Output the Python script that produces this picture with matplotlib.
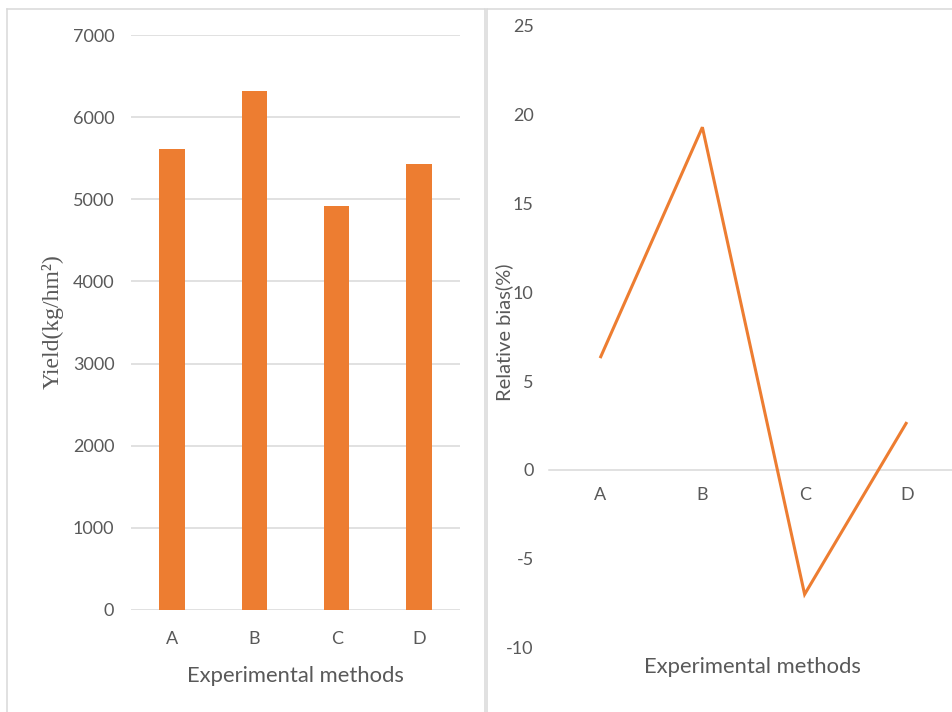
import matplotlib
matplotlib.use("Agg")
import matplotlib.pyplot as plt
from matplotlib.lines import Line2D

# Data
methods = ["A", "B", "C", "D"]
yield_kg_hm2 = [5610, 6320, 4920, 5430]
relative_bias = [6.3, 19.3, -7.0, 2.7]
yield_ticks = [0, 1000, 2000, 3000, 4000, 5000, 6000, 7000]
bias_ticks = [-10, -5, 0, 5, 10, 15, 20, 25]

ORANGE = "#ED7D31"
GRID = "#D9D9D9"
TEXT = "#595959"
FONT = "Lato"

plt.rcParams["axes.unicode_minus"] = False

W, H = 952, 712
fig = plt.figure(figsize=(W / 100, H / 100), dpi=100)
fig.patch.set_facecolor("white")


def fx(x):
    return x / W


def fy(y):
    return 1 - y / H


def rect(x0, y0, x1, y1):
    return [fx(x0), fy(y1), fx(x1) - fx(x0), fy(y0) - fy(y1)]


# Chart-area borders
for xs, ys in [
    ([7, 485], [9, 9]),
    ([487, 952], [9, 9]),
    ([7, 7], [9, 712]),
    ([485, 485], [9, 712]),
    ([487, 487], [9, 712]),
]:
    fig.add_artist(Line2D([fx(v) for v in xs], [fy(v) for v in ys],
                          transform=fig.transFigure, color=GRID, lw=1.1))

# ---- Left: yield bar chart ----
ax1 = fig.add_axes(rect(131, 35, 460, 610))
x = range(len(methods))
ax1.bar(x, yield_kg_hm2, width=0.31, color=ORANGE, zorder=3)
ax1.set_xlim(-0.5, len(methods) - 0.5)
ax1.set_ylim(0, 7000)
ax1.set_yticks(yield_ticks)
ax1.set_xticks(list(x))
ax1.set_xticklabels(methods)
ax1.grid(axis="y", color=GRID, lw=1.1, zorder=0)
for s in ax1.spines.values():
    s.set_visible(False)
ax1.tick_params(axis="both", length=0, labelcolor=TEXT, labelsize=13)
ax1.tick_params(axis="y", pad=12)
ax1.tick_params(axis="x", pad=15)
for lbl in ax1.get_xticklabels() + ax1.get_yticklabels():
    lbl.set_fontfamily(FONT)

fig.text(fx(295), fy(676), "Experimental methods", ha="center", va="center",
         color=TEXT, fontsize=15.8, family=FONT)
fig.text(fx(53), fy(322), "Yield(kg/hm²)", ha="center", va="center",
         rotation=90, color=TEXT, fontsize=17, family="Liberation Serif")

# ---- Right: relative bias line chart ----
ax2 = fig.add_axes(rect(549, 26, 958, 647.6))
ax2.plot(list(x), relative_bias, color=ORANGE, lw=2.2,
         solid_joinstyle="miter", solid_capstyle="butt", zorder=3)
ax2.set_xlim(-0.5, len(methods) - 0.5)
ax2.set_ylim(-10, 25)
ax2.set_yticks(bias_ticks)
ax2.set_xticks(list(x))
ax2.set_xticklabels(methods)
for name, s in ax2.spines.items():
    s.set_visible(name == "bottom")
ax2.spines["bottom"].set_position(("data", 0))
ax2.spines["bottom"].set_color(GRID)
ax2.spines["bottom"].set_linewidth(1.1)
ax2.tick_params(axis="both", length=0, labelcolor=TEXT, labelsize=13)
ax2.tick_params(axis="y", pad=11)
ax2.tick_params(axis="x", pad=12)
for lbl in ax2.get_xticklabels() + ax2.get_yticklabels():
    lbl.set_fontfamily(FONT)

fig.text(fx(752), fy(667), "Experimental methods", ha="center", va="center",
         color=TEXT, fontsize=15.8, family=FONT)
fig.text(fx(504), fy(332), "Relative bias(%)", ha="center", va="center",
         rotation=90, color=TEXT, fontsize=14.5, family=FONT)

fig.savefig("out.png", dpi=100)
